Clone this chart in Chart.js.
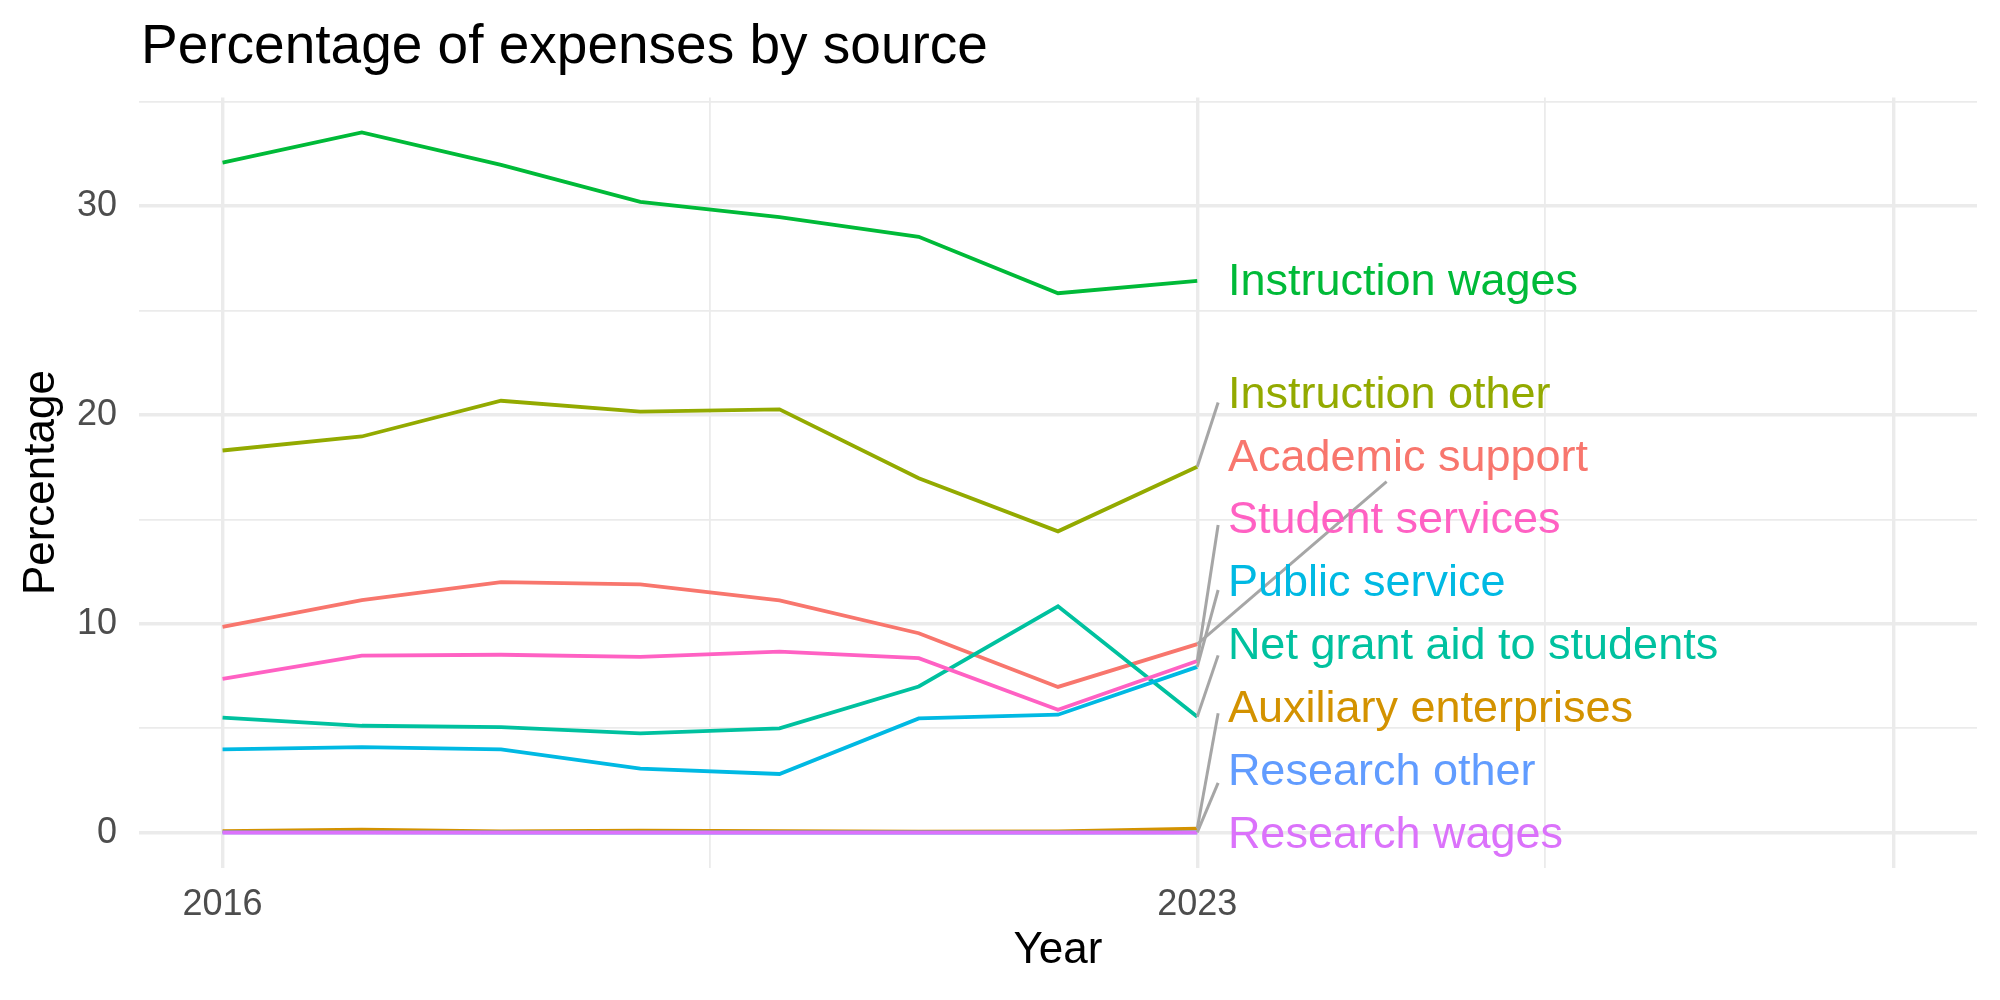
<!DOCTYPE html>
<html lang="en">
  <head>
    <meta charset="UTF-8" />
    <title>Percentage of expenses by source</title>
    <script src="https://cdn.jsdelivr.net/npm/chart.js@4.4.0/dist/chart.umd.min.js"></script>
    <style>
      body {
        margin: 0;
        background: #ffffff;
      }
      #wrap {
        width: 2000px;
        height: 1000px;
      }
    </style>
  </head>
  <body>
    <div id="wrap">
      <canvas id="expenseChart" width="2000" height="1000"></canvas>
    </div>

    <script>
      // data
      const years = [2016, 2017, 2018, 2019, 2020, 2021, 2022, 2023];
      const sources = [
        "Academic support",
        "Auxiliary enterprises",
        "Instruction other",
        "Instruction wages",
        "Net grant aid to students",
        "Public service",
        "Research other",
        "Research wages",
        "Student services",
      ];
      const academicSupport = [9.86, 11.14, 12.0, 11.89, 11.12, 9.55, 6.98, 9.03];
      const auxiliaryEnterprises = [0.08, 0.15, 0.06, 0.1, 0.08, 0.05, 0.06, 0.2];
      const instructionOther = [18.3, 18.97, 20.68, 20.16, 20.27, 16.97, 14.43, 17.52];
      const instructionWages = [32.08, 33.53, 31.97, 30.2, 29.47, 28.53, 25.83, 26.42];
      const netGrantAid = [5.51, 5.12, 5.06, 4.76, 5.0, 7.0, 10.84, 5.55];
      const publicService = [3.99, 4.1, 3.99, 3.07, 2.81, 5.47, 5.65, 7.94];
      const researchOther = [0.02, 0.02, 0.01, 0.01, 0.01, 0.01, 0.01, 0.02];
      const researchWages = [0.0, 0.0, 0.0, 0.0, 0.0, 0.0, 0.0, 0.0];
      const studentServices = [7.37, 8.48, 8.52, 8.42, 8.67, 8.36, 5.89, 8.22];

      // end labels (ggrepel style), y in data units, and where the leader ends
      const labelY = [17.92, 5.88, 20.91, 26.32, 8.89, 11.91, 2.87, -0.16, 14.92];
      const segEndX = [2024.36, 2023.15, 2023.15, null, 2023.15, 2023.15, 2023.15, null, 2023.15];
      const segEndY = [16.81, 5.72, 20.6, null, 8.49, 11.62, 2.39, null, 14.73];
      const labelX = 2023.22;

      const xTicks = [2016, 2019.5, 2023, 2025.5, 2028];
      const xMajor = [2016, 2023, 2028];
      const xTickLabels = { 2016: "2016", 2023: "2023" };
      const yTicks = [0, 5, 10, 15, 20, 25, 30, 35];
      const yTickLabels = { 0: "0", 10: "10", 20: "20", 30: "30" };

      const colors = [
        "#F8766D", "#D39200", "#93AA00", "#00BA38", "#00C19F",
        "#00B9E3", "#619CFF", "#DB72FB", "#FF61C3",
      ];
      const series = [
        academicSupport, auxiliaryEnterprises, instructionOther, instructionWages,
        netGrantAid, publicService, researchOther, researchWages, studentServices,
      ];

      const FONT = '"Liberation Sans", Arial, Helvetica, sans-serif';

      const datasets = sources.map((name, i) => ({
        label: name,
        data: years.map((y, k) => ({ x: y, y: series[i][k] })),
        borderColor: colors[i],
        backgroundColor: colors[i],
        borderWidth: 3.8,
        pointRadius: 0,
        tension: 0,
        fill: false,
        order: sources.length - i, // later groups drawn on top, like ggplot
      }));

      const decorPlugin = {
        id: "decor",
        afterDatasetsDraw(chart) {
          const { ctx, chartArea } = chart;
          const xs = chart.scales.x;
          const ys = chart.scales.y;
          ctx.save();
          // leader segments
          ctx.strokeStyle = "#A6A6A6";
          ctx.lineWidth = 3;
          ctx.lineCap = "butt";
          sources.forEach((name, i) => {
            if (segEndX[i] === null) return;
            const last = series[i][series[i].length - 1];
            ctx.beginPath();
            ctx.moveTo(xs.getPixelForValue(years[years.length - 1]), ys.getPixelForValue(last));
            ctx.lineTo(xs.getPixelForValue(segEndX[i]), ys.getPixelForValue(segEndY[i]));
            ctx.stroke();
          });
          // labels
          ctx.font = "45px " + FONT;
          ctx.textAlign = "left";
          ctx.textBaseline = "middle";
          sources.forEach((name, i) => {
            ctx.fillStyle = colors[i];
            ctx.fillText(name, xs.getPixelForValue(labelX), ys.getPixelForValue(labelY[i]));
          });
          // title
          ctx.fillStyle = "#000000";
          ctx.font = "55px " + FONT;
          ctx.textBaseline = "alphabetic";
          ctx.fillText("Percentage of expenses by source", chartArea.left + 2, 63);
          ctx.restore();
        },
      };

      const ctx = document.getElementById("expenseChart").getContext("2d");
      new Chart(ctx, {
        type: "line",
        data: { datasets: datasets },
        options: {
          responsive: false,
          animation: false,
          devicePixelRatio: 1,
          layout: { padding: { top: 97.5, right: 23, left: 0, bottom: 0 } },
          plugins: {
            legend: { display: false },
            tooltip: { enabled: false },
            title: { display: false },
          },
          scales: {
            x: {
              type: "linear",
              min: 2015.4,
              max: 2028.6,
              afterBuildTicks: (s) => {
                s.ticks = xTicks.map((v) => ({ value: v }));
              },
              afterFit: (s) => {
                s.height = 132.3;
              },
              border: { display: false },
              grid: {
                color: "#EBEBEB",
                drawTicks: false,
                lineWidth: (c) => (c.tick && xMajor.includes(c.tick.value) ? 3.4 : 1.8),
              },
              ticks: {
                autoSkip: false,
                maxRotation: 0,
                padding: 19,
                color: "#4D4D4D",
                font: { family: FONT, size: 36, lineHeight: 1 },
                callback: (v) => xTickLabels[v] || "",
              },
              title: {
                display: true,
                text: "Year",
                color: "#000000",
                font: { family: FONT, size: 44, lineHeight: 1 },
                padding: { top: 0, bottom: 27.6 },
              },
            },
            y: {
              min: -1.675,
              max: 35.2,
              afterBuildTicks: (s) => {
                s.ticks = yTicks.map((v) => ({ value: v }));
              },
              afterFit: (s) => {
                s.width = 139;
              },
              border: { display: false },
              grid: {
                color: "#EBEBEB",
                drawTicks: false,
                lineWidth: (c) => (c.tick && c.tick.value % 10 === 0 ? 3.4 : 1.8),
              },
              ticks: {
                padding: 22,
                color: "#4D4D4D",
                font: { family: FONT, size: 36, lineHeight: 1 },
                callback: (v) => (yTickLabels[v] !== undefined ? yTickLabels[v] : ""),
              },
              title: {
                display: true,
                text: "Percentage",
                color: "#000000",
                font: { family: FONT, size: 44, lineHeight: 1 },
                padding: { top: 20, bottom: 0 },
              },
            },
          },
        },
        plugins: [decorPlugin],
      });
    </script>
  </body>
</html>
